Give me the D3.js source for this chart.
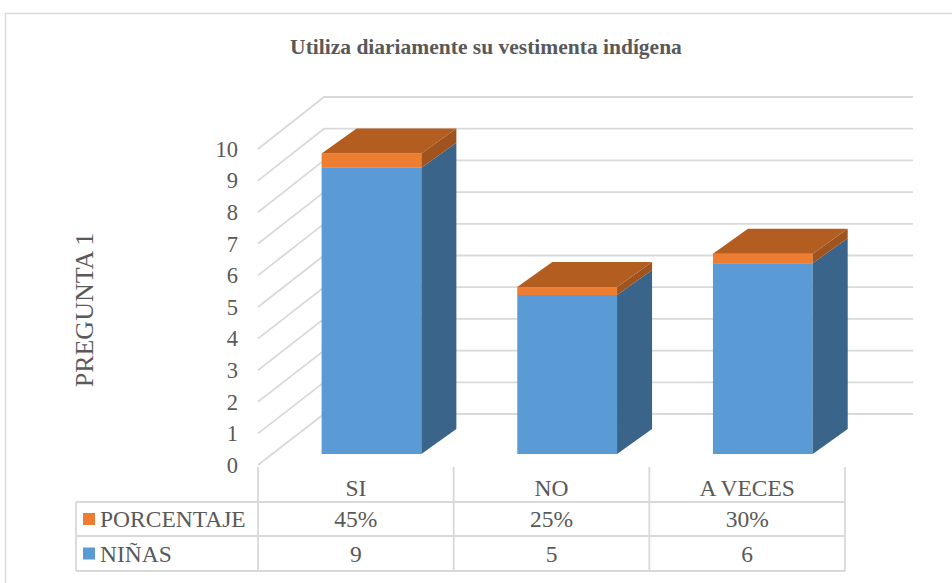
<!DOCTYPE html>
<html>
<head>
<meta charset="utf-8">
<script src="https://cdn.jsdelivr.net/npm/d3@7"></script>
<style>
  html, body { margin: 0; padding: 0; background: #fff; }
  svg { display: block; }
  text { font-family: "Liberation Serif", "Times New Roman", serif; }
</style>
</head>
<body>
<svg id="chart" width="952" height="583"></svg>
<script>
// ---- data ----
const categories = ["SI", "NO", "A VECES"];
const ninas = [9, 5, 6];
const porcentaje = [0.45, 0.25, 0.30];
const porcentajeLabels = ["45%", "25%", "30%"];
const tickValues = [0, 1, 2, 3, 4, 5, 6, 7, 8, 9, 10];
const seriesNames = ["PORCENTAJE", "NIÑAS"];
const title = "Utiliza diariamente su vestimenta indígena";
const axisTitle = "PREGUNTA 1";

// ---- layout ----
const svg = d3.select("#chart");
const textColor = "#595959";
const gridColor = "#D9D9D9";
const serif = "Liberation Serif";

// outer chart border
svg.append("rect").attr("x", 5.5).attr("y", 13.5).attr("width", 1000).attr("height", 700)
  .attr("fill", "#fff").attr("stroke", gridColor).attr("stroke-width", 1.5);

// title
svg.append("text").attr("x", 486).attr("y", 54).attr("text-anchor", "middle")
  .style("font-family", serif).attr("font-weight", "bold").attr("font-size", 21.5)
  .attr("fill", textColor).text(title);

// scales
const x = d3.scaleBand().domain(categories).range([258, 845]).padding(0);
const yFront = d3.scaleLinear().domain([0, 10]).range([465, 149]);
const yBack = d3.scaleLinear().domain([0, 10]).range([414, 97]);
const yBar = d3.scaleLinear().domain([0, 10]).range([454, 136]);
const frontX = 258, backX = 324, rightX = 913;
const depthDX = 35, depthDY = -25;

// gridlines (floor diagonals + back wall)
const grid = svg.append("g").attr("stroke", gridColor).attr("stroke-width", 1.8).attr("fill", "none");
tickValues.forEach(v => {
  grid.append("path").attr("d",
    `M${frontX},${yFront(v)}L${backX},${yBack(v)}L${rightX},${yBack(v)}`);
});

// tick labels
svg.append("g").selectAll("text").data(tickValues).join("text")
  .attr("x", 238).attr("y", d => yFront(d)).attr("dy", "0.35em")
  .attr("text-anchor", "end").style("font-family", serif).attr("font-size", 22.5)
  .attr("fill", textColor).text(d => d);

// axis title
svg.append("text").attr("transform", "translate(93,310) rotate(-90)")
  .attr("text-anchor", "middle").style("font-family", serif).attr("font-size", 26)
  .attr("fill", textColor).text(axisTitle);

// bars
const colors = {
  blueFront: "#5B9BD5", blueSide: "#3A6489", blueTop: "#4A7FB0",
  orFront: "#ED7D31", orSide: "#9F5420", orTop: "#B35D21"
};
const barW = x.bandwidth() * 0.51;
const barOff = x.bandwidth() * 0.325;

function drawBlock(g, x0, v0, v1, front, side, top, drawTop) {
  const yb = yBar(v0), yt = yBar(v1);
  g.append("rect").attr("x", x0).attr("y", yt).attr("width", barW).attr("height", yb - yt)
    .attr("fill", front);
  g.append("path").attr("d",
    `M${x0 + barW},${yb}L${x0 + barW + depthDX},${yb + depthDY}L${x0 + barW + depthDX},${yt + depthDY}L${x0 + barW},${yt}Z`)
    .attr("fill", side);
  if (drawTop) {
    g.append("path").attr("d",
      `M${x0},${yt}L${x0 + depthDX},${yt + depthDY}L${x0 + barW + depthDX},${yt + depthDY}L${x0 + barW},${yt}Z`)
      .attr("fill", top);
  }
}

const bars = svg.append("g");
categories.forEach((c, i) => {
  const g = bars.append("g");
  const x0 = x(c) + barOff;
  drawBlock(g, x0, 0, ninas[i], colors.blueFront, colors.blueSide, colors.blueTop, false);
  drawBlock(g, x0, ninas[i], ninas[i] + porcentaje[i], colors.orFront, colors.orSide, colors.orTop, true);
});

// data table
const tbl = svg.append("g").attr("stroke", gridColor).attr("stroke-width", 1.8).attr("fill", "none");
const tableLeft = 76, headerTop = 467, row1 = 502, row2 = 536, row3 = 571;
[x(categories[0]), ...categories.map(c => x(c) + x.bandwidth())].forEach(xx => {
  tbl.append("line").attr("x1", xx).attr("x2", xx).attr("y1", headerTop).attr("y2", row3);
});
[row1, row2, row3].forEach(yy => {
  tbl.append("line").attr("x1", tableLeft).attr("x2", x.range()[1]).attr("y1", yy).attr("y2", yy);
});
tbl.append("line").attr("x1", tableLeft).attr("x2", tableLeft).attr("y1", row1).attr("y2", row3);

const tf = svg.append("g").attr("font-size", 23.5).attr("fill", textColor);
function tableText(sel) { return sel.style("font-family", serif); }
categories.forEach((c, i) => {
  const cx = x(c) + x.bandwidth() / 2;
  tableText(tf.append("text")).attr("x", cx).attr("y", (headerTop + row1) / 2 + 3).attr("dy", "0.35em")
    .attr("text-anchor", "middle").text(c);
  tableText(tf.append("text")).attr("x", cx).attr("y", (row1 + row2) / 2).attr("dy", "0.35em")
    .attr("text-anchor", "middle").text(porcentajeLabels[i]);
  tableText(tf.append("text")).attr("x", cx).attr("y", (row2 + row3) / 2).attr("dy", "0.35em")
    .attr("text-anchor", "middle").text(ninas[i]);
});
// legend keys in table
const legendColors = [colors.orFront, colors.blueFront];
seriesNames.forEach((s, i) => {
  const cy = i === 0 ? (row1 + row2) / 2 : (row2 + row3) / 2;
  svg.append("rect").attr("x", 83).attr("y", cy - 6).attr("width", 12).attr("height", 12)
    .attr("fill", legendColors[i]);
  tableText(tf.append("text")).attr("x", 100).attr("y", cy).attr("dy", "0.35em").text(s);
});
</script>
</body>
</html>
